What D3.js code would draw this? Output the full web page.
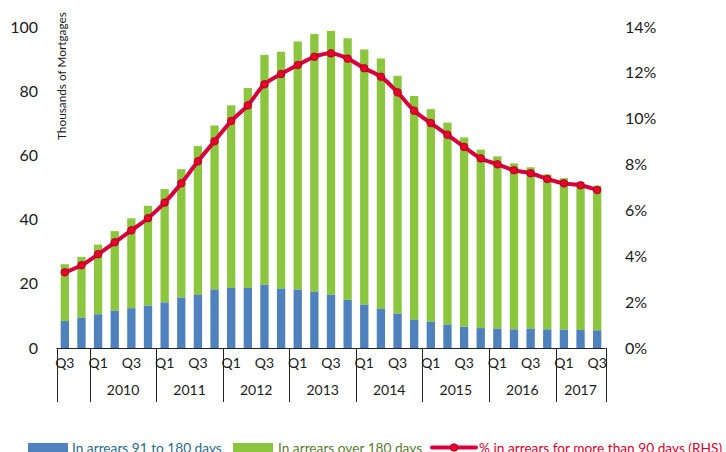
<!DOCTYPE html>
<meta charset="utf-8">
<style>
    body { margin: 0; background: #fff; }
    svg { display: block; font-family: Lato, "Open Sans", sans-serif; }
    .tick-label { font-size: 16px; fill: #1a1a1a; }
    .cat text { font-size: 14px; fill: #1a1a1a; text-anchor: middle; }
    .legend text { font-size: 13.7px; }
</style>
<svg width="726" height="452"></svg>
<script src="https://cdnjs.cloudflare.com/ajax/libs/d3/7.8.5/d3.min.js"></script>
<script>
    // quarters from 2009 Q3 to 2017 Q3
    var years = [2009, 2009, 2010, 2010, 2010, 2010, 2011, 2011, 2011, 2011, 2012, 2012, 2012, 2012,
        2013, 2013, 2013, 2013, 2014, 2014, 2014, 2014, 2015, 2015, 2015, 2015, 2016, 2016, 2016, 2016,
        2017, 2017, 2017];
    var quarters = ["Q3", "Q4", "Q1", "Q2", "Q3", "Q4", "Q1", "Q2", "Q3", "Q4", "Q1", "Q2", "Q3", "Q4",
        "Q1", "Q2", "Q3", "Q4", "Q1", "Q2", "Q3", "Q4", "Q1", "Q2", "Q3", "Q4", "Q1", "Q2", "Q3", "Q4",
        "Q1", "Q2", "Q3"];
    // thousands of mortgages
    var arrears91to180 = [8.4, 9.4, 10.5, 11.6, 12.4, 13.2, 14.2, 15.7, 16.6, 18.2, 18.7, 18.7, 19.7,
        18.5, 18.2, 17.5, 16.6, 15.0, 13.5, 12.2, 10.7, 8.8, 8.2, 7.3, 6.6, 6.2, 6.0, 5.8, 6.0, 5.8,
        5.7, 5.6, 5.5];
    var arrearsTotal = [26.1, 28.4, 32.2, 36.4, 40.4, 44.3, 49.5, 55.7, 62.9, 69.3, 75.6, 81.0, 91.3,
        92.3, 95.5, 97.8, 98.8, 96.5, 93.0, 90.2, 84.8, 78.5, 74.4, 70.2, 65.6, 61.8, 59.7, 57.5, 56.3,
        54.1, 52.9, 51.6, 50.6];
    // % in arrears for more than 90 days
    var pctOver90 = [3.30, 3.61, 4.09, 4.61, 5.13, 5.66, 6.34, 7.18, 8.14, 9.02, 9.90, 10.58, 11.50,
        11.95, 12.34, 12.70, 12.85, 12.62, 12.20, 11.83, 11.15, 10.35, 9.81, 9.30, 8.77, 8.27, 8.01,
        7.75, 7.62, 7.37, 7.18, 7.10, 6.89];
    var leftTicks = [0, 20, 40, 60, 80, 100];
    var rightTicks = [0, 2, 4, 6, 8, 10, 12, 14];

    var svg = d3.select("svg");
    var plotLeft = 56.5, plotRight = 605.5, plotTop = 27, plotBottom = 348;

    var data = quarters.map(function(q, i) {
        return {i: i, q: q, year: years[i], low: arrears91to180[i], total: arrearsTotal[i], pct: pctOver90[i]};
    });

    var x = d3.scaleBand()
        .domain(d3.range(data.length))
        .range([plotLeft, plotRight])
        .paddingInner(0.5)
        .paddingOuter(0.25);
    var y = d3.scaleLinear().domain([0, 100]).range([plotBottom, plotTop]);
    var y2 = d3.scaleLinear().domain([0, 14]).range([plotBottom, plotTop]);

    // bars
    var bars = svg.append("g");
    bars.selectAll(".over").data(data).enter().append("rect")
        .attr("x", function(d) { return x(d.i); })
        .attr("width", x.bandwidth())
        .attr("y", function(d) { return y(d.total); })
        .attr("height", function(d) { return y(d.low) - y(d.total); })
        .attr("fill", "#8cc63f");
    bars.selectAll(".low").data(data).enter().append("rect")
        .attr("x", function(d) { return x(d.i); })
        .attr("width", x.bandwidth())
        .attr("y", function(d) { return y(d.low); })
        .attr("height", function(d) { return plotBottom - y(d.low); })
        .attr("fill", "#4f81bd");

    // left axis labels
    svg.append("g").selectAll("text").data(leftTicks).enter().append("text")
        .attr("class", "tick-label")
        .attr("x", 38)
        .attr("y", function(d) { return y(d); })
        .attr("dy", "0.35em")
        .attr("text-anchor", "end")
        .text(function(d) { return d; });

    // right axis labels
    svg.append("g").selectAll("text").data(rightTicks).enter().append("text")
        .attr("class", "tick-label")
        .attr("x", 625)
        .attr("y", function(d) { return y2(d); })
        .attr("dy", "0.35em")
        .text(function(d) { return d + "%"; });

    svg.append("text")
        .attr("transform", "translate(66,140) rotate(-90)")
        .attr("font-size", "11.8px")
        .attr("fill", "#1a1a1a")
        .text("Thousands of Mortgages");

    // category axis
    var cat = svg.append("g").attr("class", "cat");
    cat.append("line")
        .attr("x1", plotLeft).attr("x2", plotRight)
        .attr("y1", plotBottom + 0.5).attr("y2", plotBottom + 0.5)
        .attr("stroke", "#222");
    var step = x.step();
    var boundaries = [plotLeft];
    data.forEach(function(d, i) { if (i > 0 && d.q === "Q1") boundaries.push(x(d.i) - (step - x.bandwidth()) / 2); });
    boundaries.push(plotRight);
    cat.selectAll(".sep").data(boundaries).enter().append("line")
        .attr("x1", function(d) { return Math.round(d) + 0.5; })
        .attr("x2", function(d) { return Math.round(d) + 0.5; })
        .attr("y1", plotBottom).attr("y2", 402)
        .attr("stroke", "#222");
    cat.selectAll(".q").data(data.filter(function(d) { return d.q === "Q1" || d.q === "Q3"; }))
        .enter().append("text")
        .attr("x", function(d) { return x(d.i) + x.bandwidth() / 2; })
        .attr("y", 368)
        .text(function(d) { return d.q; });
    var yearGroups = d3.groups(data, function(d) { return d.year; }).filter(function(g) { return g[1].length > 2; });
    cat.selectAll(".yr").data(yearGroups).enter().append("text")
        .attr("x", function(g) {
            var a = g[1][0].i, b = g[1][g[1].length - 1].i;
            return (x(a) + x(b) + x.bandwidth()) / 2;
        })
        .attr("y", 395)
        .text(function(g) { return g[0]; });

    // line
    var line = d3.line()
        .x(function(d) { return x(d.i) + x.bandwidth() / 2; })
        .y(function(d) { return y2(d.pct); })
        .curve(d3.curveCatmullRom);
    svg.append("path")
        .datum(data)
        .attr("d", line)
        .attr("fill", "none")
        .attr("stroke", "#d8003a")
        .attr("stroke-width", 4);
    svg.append("g").selectAll("circle").data(data).enter().append("circle")
        .attr("cx", function(d) { return x(d.i) + x.bandwidth() / 2; })
        .attr("cy", function(d) { return y2(d.pct); })
        .attr("r", 3.8)
        .attr("fill", "#e8002a")
        .attr("stroke", "#9a0028")
        .attr("stroke-width", 0.8);

    // legend
    var legend = svg.append("g").attr("class", "legend");
    legend.append("rect").attr("x", 28).attr("y", 443).attr("width", 40).attr("height", 12).attr("fill", "#4f81bd");
    legend.append("text").attr("x", 72).attr("y", 453).attr("fill", "#2a6a8a").text("In arrears 91 to 180 days");
    legend.append("rect").attr("x", 233).attr("y", 443).attr("width", 40).attr("height", 12).attr("fill", "#8cc63f");
    legend.append("text").attr("x", 278).attr("y", 453).attr("fill", "#5a7a2e").text("In arrears over 180 days");
    legend.append("line").attr("x1", 432).attr("x2", 476).attr("y1", 447.5).attr("y2", 447.5)
        .attr("stroke", "#d8003a").attr("stroke-width", 4).attr("stroke-linecap", "round");
    legend.append("circle").attr("cx", 454).attr("cy", 447.5).attr("r", 3.8)
        .attr("fill", "#e8002a").attr("stroke", "#9a0028").attr("stroke-width", 0.8);
    legend.append("text").attr("x", 479).attr("y", 453).attr("fill", "#e0002a").text("% in arrears for more than 90 days (RHS)");
</script>
